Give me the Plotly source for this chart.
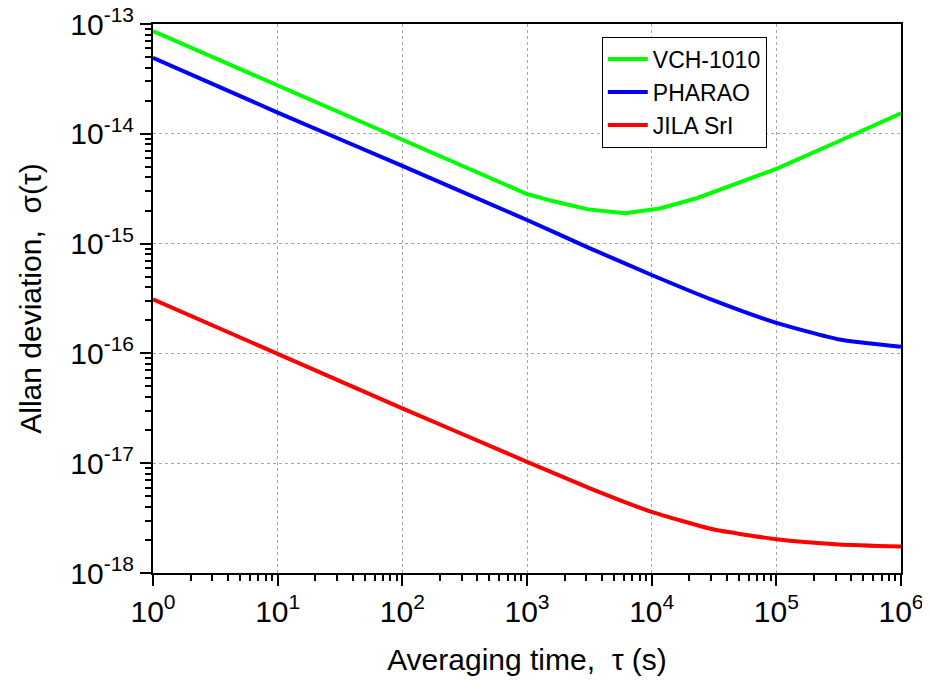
import plotly.graph_objects as go

# Averaging time (s) and Allan deviation values
tau_vch = [1, 10, 100, 1000, 1600, 3100, 6100, 11600, 23000, 51000, 1e5, 3.2e5, 1e6]
sig_vch = [8.6e-14, 2.74e-14, 8.8e-15, 2.83e-15, 2.44e-15, 2.05e-15, 1.89e-15,
           2.09e-15, 2.59e-15, 3.66e-15, 4.8e-15, 8.6e-15, 1.54e-14]

tau_pharao = [1, 10, 100, 1000, 3200, 1e4, 3.1e4, 1e5, 3.2e5, 1e6]
sig_pharao = [4.93e-14, 1.56e-14, 5.1e-15, 1.64e-15, 9.06e-16,
              5.18e-16, 3.06e-16, 1.9e-16, 1.34e-16, 1.15e-16]

tau_jila = [1, 10, 100, 1000, 3200, 1e4, 3.1e4, 1e5, 3.2e5, 1e6]
sig_jila = [3.11e-16, 9.9e-17, 3.16e-17, 1.03e-17, 5.9e-18, 3.6e-18, 2.5e-18,
            2.03e-18, 1.82e-18, 1.74e-18]

x_tickvals = [1, 10, 100, 1000, 1e4, 1e5, 1e6]
x_ticktext = ["10<sup>0</sup>", "10<sup>1</sup>", "10<sup>2</sup>", "10<sup>3</sup>",
              "10<sup>4</sup>", "10<sup>5</sup>", "10<sup>6</sup>"]
y_tickvals = [1e-18, 1e-17, 1e-16, 1e-15, 1e-14, 1e-13]
y_ticktext = ["10<sup>-18</sup>", "10<sup>-17</sup>", "10<sup>-16</sup>",
              "10<sup>-15</sup>", "10<sup>-14</sup>", "10<sup>-13</sup>"]

FONT = "Liberation Sans, Arial, sans-serif"

fig = go.Figure()
fig.add_trace(go.Scatter(x=tau_vch, y=sig_vch, mode="lines", name="VCH-1010",
                         line=dict(color="#00ff00", width=4)))
fig.add_trace(go.Scatter(x=tau_pharao, y=sig_pharao, mode="lines", name="PHARAO",
                         line=dict(color="#0000ff", width=4, shape="spline", smoothing=0.5)))
fig.add_trace(go.Scatter(x=tau_jila, y=sig_jila, mode="lines", name="JILA SrI",
                         line=dict(color="#ff0000", width=4, shape="spline", smoothing=0.5)))

axis_common = dict(
    type="log", showline=True, linecolor="black", linewidth=2, mirror=True,
    ticks="outside", ticklen=11, tickwidth=2, tickcolor="black",
    showgrid=True, gridcolor="#a8a8a8", griddash="dot", gridwidth=1,
    zeroline=False, automargin=False, ticklabeloverflow="allow",
    tickfont=dict(family=FONT, size=30, color="black"),
    minor=dict(ticks="outside", ticklen=6, tickwidth=2, tickcolor="black",
               dtick="D1", showgrid=False),
)

fig.update_xaxes(range=[0, 6], tickvals=x_tickvals, ticktext=x_ticktext, **axis_common,
                 title=dict(text="Averaging time,  τ (s)",
                            font=dict(family=FONT, size=30, color="black"), standoff=22))
fig.update_yaxes(range=[-18, -13], tickvals=y_tickvals, ticktext=y_ticktext, **axis_common,
                 title=dict(text="Allan deviation,  σ(τ)",
                            font=dict(family=FONT, size=30, color="black"), standoff=20))

fig.update_layout(
    width=930, height=691,
    margin=dict(l=145, r=37, t=16, b=126),
    plot_bgcolor="white", paper_bgcolor="white",
    showlegend=True,
    legend=dict(x=0.6, y=0.977, xanchor="left", yanchor="top",
                bgcolor="white", bordercolor="black", borderwidth=1,
                font=dict(family=FONT, size=23, color="black"),
                tracegroupgap=0, itemwidth=40),
)

fig.write_html("out.html")
